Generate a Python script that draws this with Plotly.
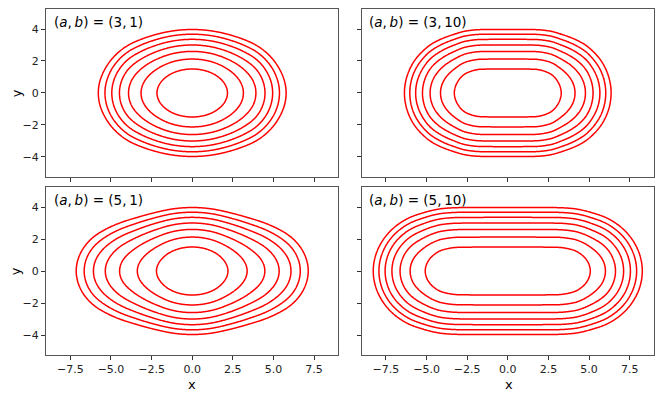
import numpy as np
import plotly.graph_objects as go
from plotly.subplots import make_subplots

# Data
# panel parameters (a, b), in order TL, TR, BL, BR
params = [(3, 1), (3, 10), (5, 1), (5, 10)]

# contour levels of H = y^2 + g(x)  (y at x=0 is 1.5, 2.12, 2.6, 3, 3.35, 3.67, 3.97)
levels = [2.25, 4.5, 6.75, 9.0, 11.25, 13.5, 15.75]

# where each level crosses y = 0 (|x|), one list per panel
x_cross_31 = [2.17, 3.15, 3.92, 4.48, 4.95, 5.37, 5.78]
x_cross_310 = [3.29, 4.14, 4.78, 5.25, 5.67, 6.03, 6.36]
x_cross_51 = [2.20, 3.38, 4.47, 5.35, 6.08, 6.65, 7.14]
x_cross_510 = [5.08, 6.01, 6.63, 7.13, 7.55, 7.93, 8.28]

# flat bottom of the well for b = 10: (|x|, g)
flat_310 = [(1.6, 0.04), (2.5, 0.65)]
flat_510 = [(3.0, 0.05), (4.0, 0.5), (4.6, 1.3)]

x_ticks = [-7.5, -5.0, -2.5, 0.0, 2.5, 5.0, 7.5]
y_ticks = [-4, -2, 0, 2, 4]


def pchip(xk, yk, x):
    xk = np.asarray(xk, float)
    yk = np.asarray(yk, float)
    h = np.diff(xk)
    d = np.diff(yk) / h
    n = len(xk)
    m = np.zeros(n)
    m[0], m[-1] = d[0], d[-1]
    for i in range(1, n - 1):
        if d[i - 1] * d[i] > 0:
            w1 = 2 * h[i] + h[i - 1]
            w2 = h[i] + 2 * h[i - 1]
            m[i] = (w1 + w2) / (w1 / d[i - 1] + w2 / d[i])
    i = np.clip(np.searchsorted(xk, x) - 1, 0, n - 2)
    t = (x - xk[i]) / h[i]
    h00 = 2 * t**3 - 3 * t**2 + 1
    h10 = t**3 - 2 * t**2 + t
    h01 = -2 * t**3 + 3 * t**2
    h11 = t**3 - t**2
    out = h00 * yk[i] + h10 * h[i] * m[i] + h01 * yk[i + 1] + h11 * h[i] * m[i + 1]
    out = np.where(x > xk[-1], yk[-1] + m[-1] * (x - xk[-1]), out)
    return out


def well(x_cross, flat, s):
    # g as a smooth monotone function of s = x^2
    pts = [(0.0, 0.0)] + [(xx**2, gg) for xx, gg in flat] + \
          [(xx**2, lv) for xx, lv in zip(x_cross, levels)]
    sk, gk = zip(*pts)
    return pchip(sk, gk, s)


xg = np.linspace(-9.2, 9.2, 369)
yg = np.linspace(-5.5, 5.5, 221)
X, Y = np.meshgrid(xg, yg)

panels = [
    (x_cross_31, [], 1, 1),
    (x_cross_310, flat_310, 1, 2),
    (x_cross_51, [], 2, 1),
    (x_cross_510, flat_510, 2, 2),
]

fig = make_subplots(rows=2, cols=2, shared_xaxes=True, shared_yaxes=True,
                    horizontal_spacing=0.038, vertical_spacing=0.029)

for (xc, fl, r, c), (a, b) in zip(panels, params):
    Z = Y**2 + well(xc, fl, X**2)
    fig.add_trace(go.Contour(
        x=xg, y=yg, z=np.round(Z, 3),
        contours=dict(start=levels[0], end=levels[-1],
                      size=levels[1] - levels[0], coloring="lines"),
        colorscale=[[0, "#ff0000"], [1, "#ff0000"]],
        line=dict(width=1.5), showscale=False, hoverinfo="skip"),
        row=r, col=c)

fig.update_xaxes(range=[-9.0, 9.0], tickvals=x_ticks,
                 ticktext=["\u22127.5", "\u22125.0", "\u22122.5", "0.0", "2.5", "5.0", "7.5"],
                 ticks="outside", ticklen=4, tickwidth=1, tickcolor="#333",
                 showline=True, mirror=True, linecolor="#555", linewidth=1,
                 showgrid=False, zeroline=False)
fig.update_yaxes(range=[-5.25, 5.25], tickvals=y_ticks,
                 ticktext=["\u22124", "\u22122", "0", "2", "4"],
                 ticks="outside", ticklen=4, tickwidth=1, tickcolor="#333",
                 showline=True, mirror=True, linecolor="#555", linewidth=1,
                 showgrid=False, zeroline=False)

axnames = [("x", "y"), ("x2", "y2"), ("x3", "y3"), ("x4", "y4")]
for (xa, ya), (a, b) in zip(axnames, params):
    fig.add_annotation(text=f"(<i>a</i>,\u2009<i>b</i>) = ({a},\u2009{b})",
                       xref=f"{xa} domain", yref=f"{ya} domain",
                       x=0.02, y=0.925, xanchor="left", yanchor="middle",
                       showarrow=False, font=dict(size=13.5, color="#000"))

for xp in [0.240, 0.7615]:
    fig.add_annotation(text="x", xref="paper", yref="paper", x=xp, y=-0.086,
                       xanchor="center", yanchor="middle",
                       showarrow=False, font=dict(size=13, color="#000"))
for yp in [0.757, 0.243]:
    fig.add_annotation(text="y", xref="paper", yref="paper", x=-0.049, y=yp,
                       xanchor="center", yanchor="middle",
                       textangle=-90, showarrow=False, font=dict(size=13, color="#000"))

# the page puts the plot 8 px in from the top-left corner, so the
# figure is drawn 8 px smaller with the margins shifted to match
fig.update_layout(width=656, height=388, plot_bgcolor="white", paper_bgcolor="white",
                  margin=dict(l=38, r=10, t=1, b=41), showlegend=False,
                  font=dict(family="DejaVu Sans", size=11, color="#222"))

fig.write_html("out.html")
